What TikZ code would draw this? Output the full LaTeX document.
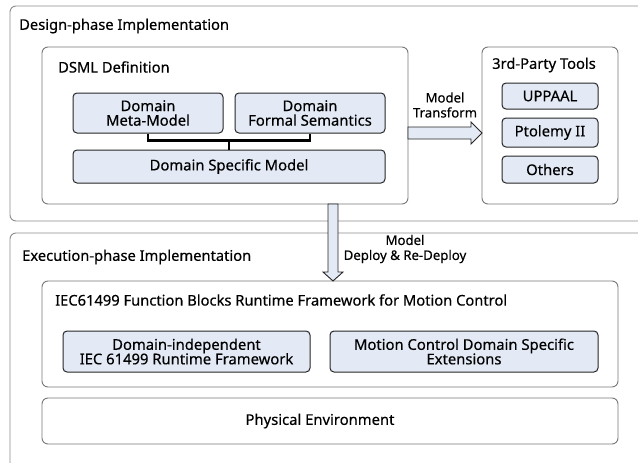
\documentclass[tikz,border=0pt]{standalone}
\usepackage{fontspec}
\setmainfont{Noto Sans}[FakeBold=0.35]
\usetikzlibrary{shapes.arrows}
\definecolor{boxfill}{HTML}{E3EAF5}
\definecolor{outerline}{HTML}{8C8C8C}
\definecolor{innerline}{HTML}{262626}
\tikzset{
  outerbox/.style={draw=outerline, line width=0.9pt, rounded corners=6pt},
  groupbox/.style={draw=outerline!85!black, line width=0.9pt, rounded corners=6pt},
  item/.style={draw=innerline, line width=1pt, fill=boxfill, rounded corners=4pt,
    align=center, font=\fontsize{14.8}{15.5}\selectfont, inner sep=0pt},
  heading/.style={anchor=west, font=\fontsize{14.7}{16}\selectfont, inner sep=0pt},
  note/.style={align=center, font=\fontsize{13.2}{15}\selectfont, inner sep=0pt},
  link/.style={line width=2.2pt, black},
  bigarrow/.style={draw=innerline, line width=0.9pt, fill=boxfill}
}
\begin{document}
\begin{tikzpicture}[x=1pt,y=-1pt]
\useasboundingbox (0,0) rectangle (638,463);
\fill[white] (0,0) rectangle (638,463);
\begin{scope}
\clip (0,0) rectangle (638,463);
% phase frames, running past the right and bottom edges
\draw[outerbox] (10,6) rectangle (660,221);
\draw[outerbox] (10,233) rectangle (660,480);
\end{scope}
\node[heading] (designT) at (19,26) {Design-phase Implementation};
\node[heading] (execT) at (22,257) {Execution-phase Implementation};

% DSML definition group
\draw[groupbox] (42,47) rectangle (408,204);
\coordinate (dsmlE) at (408,133);
\coordinate (dsmlS) at (333,204);
\node[heading] (dsmlT) at (58,67) {DSML Definition};
\node[item, minimum width=150pt, minimum height=40pt] (meta) at (148,113) {Domain\\[-1pt]Meta-Model};
\node[item, minimum width=150pt, minimum height=40pt] (sem) at (310,113) {Domain\\[-1pt]Formal Semantics};
\node[item, minimum width=312pt, minimum height=33pt] (dsm) at (229,166.5) {Domain Specific Model};
\draw[link] (meta.south) -- ++(0,7) -| (sem.south);
\draw[link] (dsm.north) -- ++(0,-10);

% third-party tools group
\draw[groupbox] (482,47) rectangle (618,204);
\coordinate (toolsW) at (482,133);
\node[heading] (toolsT) at (492,65) {3rd-Party Tools};
\node[item, minimum width=96pt, minimum height=26pt] (uppaal) at (550,96) {UPPAAL};
\node[item, minimum width=96pt, minimum height=29pt] (ptolemy) at (550,132.5) {Ptolemy II};
\node[item, minimum width=96pt, minimum height=27pt] (others) at (550,169.5) {Others};

% model transform arrow
\draw[bigarrow] (dsmlE) ++(0,-6) -- ++(63,0) -- ++(0,-5) -- (toolsW) -- ++(-11,11) -- ++(0,-5) -- ++(-63,0) -- cycle;
\node[note] (transT) at (445,105) {Model\\Transform};

% runtime framework group
\draw[groupbox] (42,281) rectangle (618,387);
\coordinate (rtN) at (333,281);
\node[heading] (rtT) at (55,300) {IEC61499 Function Blocks Runtime Framework for Motion Control};
\node[item, minimum width=247pt, minimum height=41pt] (indep) at (186.5,351.5) {Domain-independent\\[-1pt]IEC 61499 Runtime Framework};
\node[item, minimum width=268pt, minimum height=41pt] (motion) at (464,351.5) {Motion Control Domain Specific\\[-1pt]Extensions};

% physical environment
\draw[groupbox] (42,398) rectangle (618,444);
\node[font=\fontsize{14.8}{15.5}\selectfont, inner sep=0pt] (phys) at (320,421) {Physical Environment};

% deploy arrow
\draw[bigarrow] (dsmlS) ++(-5,0) -- ++(0,68) -- ++(-5,0) -- (rtN) -- ++(10,-9) -- ++(-5,0) -- ++(0,-68) -- cycle;
\node[note] (deployT) at (405,249) {Model\\Deploy \& Re-Deploy};
\end{tikzpicture}
\end{document}
